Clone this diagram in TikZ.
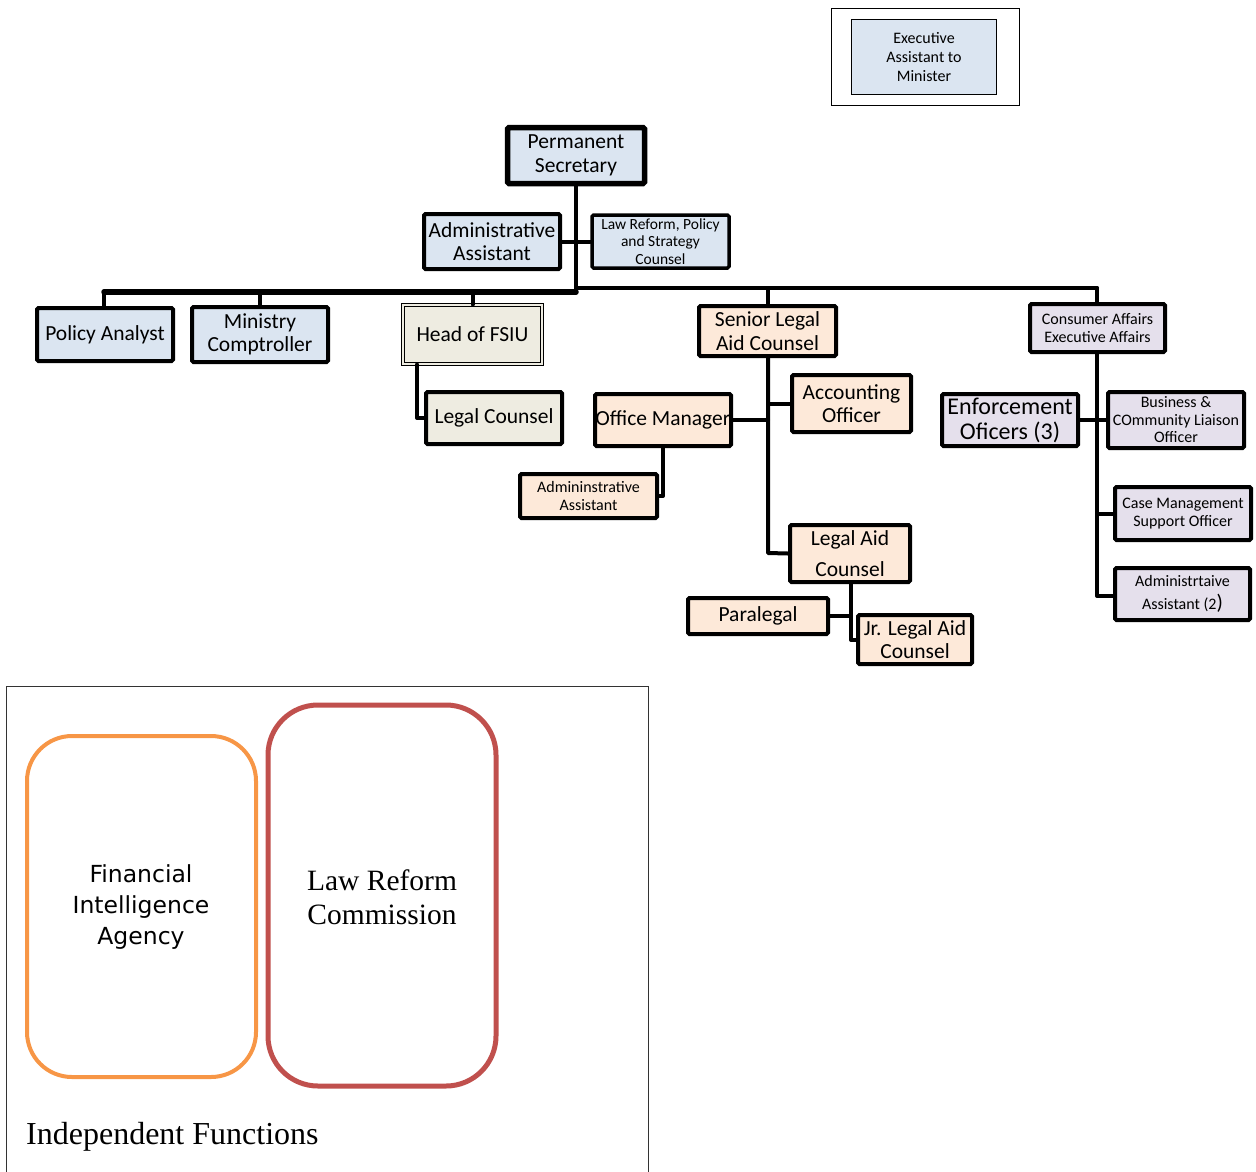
\documentclass[tikz,border=0pt]{standalone}
\usepackage{fontspec}
\setmainfont{Carlito}
\newfontfamily\fiafont{DejaVu Sans}
\newfontfamily\seriffont{Liberation Serif}
\definecolor{bluefill}{HTML}{DBE5F1}
\definecolor{fsiufill}{HTML}{EEECE1}
\definecolor{peachfill}{HTML}{FDE9D9}
\definecolor{lavfill}{HTML}{E5E0EC}
\definecolor{orangeline}{HTML}{F79646}
\definecolor{redline}{HTML}{C0504D}
\usetikzlibrary{calc}
\begin{document}
\begin{tikzpicture}[x=1pt,y=-1pt,
  box/.style={draw=black, line width=4pt, rounded corners=1.5pt, align=center, inner sep=0pt, text=black},
  bluebox/.style={box, fill=bluefill},
  fsiubox/.style={box, fill=fsiufill},
  peachbox/.style={box, fill=peachfill},
  lavbox/.style={box, fill=lavfill},
  big/.style={font=\fontsize{21.5}{23.5}\selectfont},
  small/.style={font=\fontsize{16}{18}\selectfont},
  conn/.style={line width=4pt, line cap=round, line join=round}
]
\path[use as bounding box] (0,0) rectangle (1256,1171);

% Executive assistant
\draw[line width=1pt] (831,8) rectangle (1019,105);
\node[box, line width=1pt, rounded corners=0pt, fill=bluefill, minimum width=145pt, minimum height=75pt, font=\fontsize{16}{19}\selectfont] (EA) at (924,57) {Executive\\Assistant to\\Minister};

% Nodes
\node[bluebox, line width=5.5pt, minimum width=137pt, minimum height=56pt, big] (PS) at (576,155.5) {Permanent\\Secretary};
\node[bluebox, minimum width=136pt, minimum height=55pt, big] (AA) at (492,241.5) {Administrative\\Assistant};
\node[bluebox, line width=3.5pt, minimum width=137pt, minimum height=53pt, font=\fontsize{15.5}{17.5}\selectfont] (LR) at (660.5,241.5) {Law Reform, Policy\\and Strategy\\Counsel};
\node[bluebox, minimum width=136pt, minimum height=53pt, big] (PA) at (105,334.5) {Policy Analyst};
\node[bluebox, minimum width=136pt, minimum height=55pt, big] (MC) at (260,334.5) {Ministry\\Comptroller};
\node[fsiubox, line width=1pt, double=fsiufill, double distance=2pt, rounded corners=0pt, minimum width=139pt, minimum height=59pt, big] (FSIU) at (472.5,334.5) {Head of FSIU};
\node[fsiubox, minimum width=136pt, minimum height=52pt, big] (LC) at (494,418) {Legal Counsel};

\node[peachbox, minimum width=137pt, minimum height=50pt, big] (SLAC) at (767.5,331) {Senior Legal\\Aid Counsel};
\node[peachbox, minimum width=119pt, minimum height=57pt, big] (AO) at (851.5,403.5) {Accounting\\Officer};
\node[peachbox, minimum width=136pt, minimum height=52pt, big] (OM) at (663,420) {Office Manager};
\node[peachbox, minimum width=137pt, minimum height=44pt, small] (AA2) at (588.5,496) {Admininstrative\\Assistant};
\node[peachbox, minimum width=120pt, minimum height=57pt, big] (LAC) at (850,553.5) {Legal Aid\\[7pt]Counsel};
\node[peachbox, minimum width=140pt, minimum height=36pt, big] (PL) at (758,616) {Paralegal};
\node[peachbox, minimum width=114pt, minimum height=49pt, big] (JR) at (915,639.5) {Jr. Legal Aid\\Counsel};

\node[lavbox, minimum width=135pt, minimum height=48pt, small] (CA) at (1097.5,328) {Consumer Affairs\\Executive Affairs};
\node[lavbox, minimum width=136pt, minimum height=52pt, font=\fontsize{24}{25}\selectfont] (EO) at (1010,420) {Enforcement\\Oficers (3)};
\node[lavbox, minimum width=136pt, minimum height=56pt, font=\fontsize{16}{17.5}\selectfont] (BC) at (1176,420) {Business \&\\COmmunity Liaison\\Officer};
\node[lavbox, minimum width=136pt, minimum height=53pt, small] (CM) at (1183,513.5) {Case Management\\Support Officer};
\node[lavbox, minimum width=135pt, minimum height=52pt, font=\fontsize{16}{23}\selectfont] (AD) at (1182.5,594) {Administrtaive\\Assistant (2{\fontsize{21}{23}\selectfont)}};

% Junction coordinates
\coordinate (jPS) at (576,291);
\coordinate (jL) at (104,292);
\coordinate (jR) at (1097,288);
\coordinate (jFS) at (417,418);
\coordinate (jSL) at (768,553);
\coordinate (jOM) at (663,496);
\coordinate (jLA) at (851,640);
\coordinate (jCA) at (1097,596);

% Connectors
\draw[conn] (PS.south) -- (jPS);
\draw[conn] (AA.east) -- (LR.west);
\draw[conn, line width=5.5pt] (jL) -- (jPS |- jL);
\draw[conn] (jPS |- jR) -- (jR);
\draw[conn] (jL) -- (PA.north -| jL);
\draw[conn] (MC.north |- jL) -- (MC.north);
\draw[conn] (FSIU.north |- jL) -- (FSIU.north);
\draw[conn] (SLAC.north |- jR) -- (SLAC.north);
\draw[conn] (jR) -- (CA.north -| jR);

\draw[conn] (jFS |- FSIU.south) -- (jFS) -- (LC.west);
\draw[conn] (jSL |- SLAC.south) -- (jSL) -- (LAC.west);
\draw[conn] (jSL |- AO.west) -- (AO.west);
\draw[conn] (OM.east) -- (jSL |- OM.east);
\draw[conn] (jOM |- OM.south) -- (jOM) -- (AA2.east);
\draw[conn] (jLA |- LAC.south) -- (jLA) -- (JR.west |- jLA);
\draw[conn] (PL.east) -- (jLA |- PL.east);
\draw[conn] (jCA |- CA.south) -- (jCA) -- (AD.west |- jCA);
\draw[conn] (EO.east) -- (BC.west);
\draw[conn] (jCA |- CM.west) -- (CM.west);

% Independent functions
\draw[line width=1pt, black!80] (6,1175) -- (6,686) -- (648,686) -- (648,1175);
\draw[orangeline, line width=4pt, rounded corners=45pt] (27,736) rectangle (256,1077);
\draw[redline, line width=5pt, rounded corners=50pt] (268,705) rectangle (496,1086);
\node[align=center, font=\fiafont\fontsize{23.5}{31}\selectfont] (FIA) at (141,907) {Financial\\Intelligence\\Agency};
\node[align=center, font=\seriffont\fontsize{29.5}{34}\selectfont] (LRC) at (382,897) {Law Reform\\Commission};
\node[anchor=west, inner sep=0pt, font=\seriffont\fontsize{32}{36}\selectfont] (IF) at (26,1137) {Independent Functions};
\end{tikzpicture}
\end{document}
